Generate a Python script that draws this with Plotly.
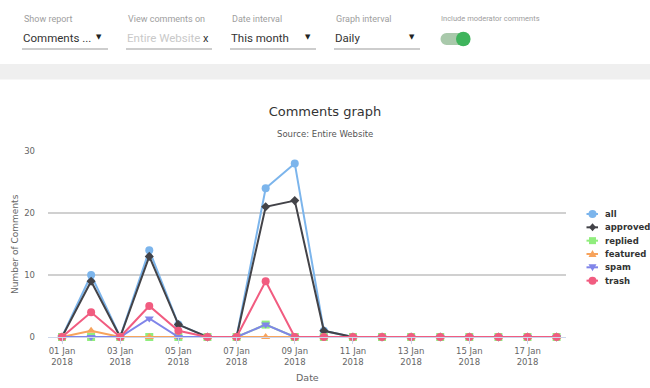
import plotly.graph_objects as go

# ---------------- data ----------------
dates = [f"2018-01-{d:02d}" for d in range(1, 19)]
series_names = ["all", "approved", "replied", "featured", "spam", "trash"]
all_vals      = [0, 10, 0, 14, 2, 0, 0, 24, 28, 1, 0, 0, 0, 0, 0, 0, 0, 0]
approved_vals = [0, 9, 0, 13, 2, 0, 0, 21, 22, 1, 0, 0, 0, 0, 0, 0, 0, 0]
replied_vals  = [0, 0, 0, 0, 0, 0, 0, 2, 0, 0, 0, 0, 0, 0, 0, 0, 0, 0]
featured_vals = [0, 1, 0, 0, 0, 0, 0, 0, 0, 0, 0, 0, 0, 0, 0, 0, 0, 0]
spam_vals     = [0, 0, 0, 3, 0, 0, 0, 2, 0, 0, 0, 0, 0, 0, 0, 0, 0, 0]
trash_vals    = [0, 4, 0, 5, 1, 0, 0, 9, 0, 0, 0, 0, 0, 0, 0, 0, 0, 0]
tick_dates = [f"2018-01-{d:02d}" for d in range(1, 19, 2)]
tick_labels = [f"{d:02d} Jan<br>2018" for d in range(1, 19, 2)]
y_ticks = [0, 10, 20, 30]

series_vals = [all_vals, approved_vals, replied_vals, featured_vals, spam_vals, trash_vals]
colors = ["#7cb5ec", "#434348", "#90ed7d", "#f7a35c", "#8085e9", "#f15c80"]
symbols = ["circle", "diamond", "square", "triangle-up", "triangle-down", "circle"]

W, H = 650, 388
ML, MR, MT, MB = 48, 84, 151, 51
PW, PH = W - ML - MR, H - MT - MB


def px(x):
    return (x - ML) / PW


def py(y):
    return (H - MB - y) / PH


fig = go.Figure()
for name, vals, c, s in zip(series_names, series_vals, colors, symbols):
    fig.add_trace(go.Scatter(
        x=dates, y=vals, name=name, mode="lines+markers",
        line=dict(color=c, width=2),
        marker=dict(color=c, symbol=s, size=7 if s == "diamond" else 8),
        cliponaxis=False, showlegend=False,
    ))

shapes = []
annotations = []

# gray band
shapes.append(dict(type="rect", xref="paper", yref="paper",
                   x0=px(0), x1=px(W), y0=py(79.5), y1=py(64),
                   fillcolor="#efefef", line=dict(width=0), layer="below"))

# controls
ctrl_labels = ["Show report", "View comments on", "Date interval", "Graph interval"]
ctrl_values = ["Comments ...", "Entire Website", "This month", "Daily"]
ctrl_x = [22, 126, 230, 334]
for lab, val, x0 in zip(ctrl_labels, ctrl_values, ctrl_x):
    annotations.append(dict(xref="paper", yref="paper", x=px(x0), y=py(19),
                            xanchor="left", yanchor="middle", showarrow=False,
                            text=lab, font=dict(family="Roboto", size=9, color="#9e9e9e")))
    annotations.append(dict(xref="paper", yref="paper", x=px(x0 - 1), y=py(37.5),
                            xanchor="left", yanchor="middle", showarrow=False,
                            text=val, font=dict(family="Roboto", size=11.5,
                                                color="#c9c9c9" if val == "Entire Website" else "#333333")))
    shapes.append(dict(type="line", xref="paper", yref="paper",
                       x0=px(x0), x1=px(x0 + 86), y0=py(49), y1=py(49),
                       line=dict(color="#bdbdbd", width=1.5)))
for ax in [99, 308, 412]:
    annotations.append(dict(xref="paper", yref="paper", x=px(ax), y=py(36.5),
                            xanchor="center", yanchor="middle", showarrow=False,
                            text="▼", font=dict(family="DejaVu Sans", size=7, color="#222222")))
annotations.append(dict(xref="paper", yref="paper", x=px(206), y=py(38.5),
                        xanchor="center", yanchor="middle", showarrow=False,
                        text="x", font=dict(family="Roboto", size=11, color="#333333")))
annotations.append(dict(xref="paper", yref="paper", x=px(439), y=py(18.5),
                        xanchor="left", yanchor="middle", showarrow=False,
                        text="Include moderator comments",
                        font=dict(family="Roboto", size=7.5, color="#9e9e9e")))

# toggle
tc = "#a9c9ab"
shapes.append(dict(type="circle", xref="paper", yref="paper",
                   x0=px(440.5), x1=px(452.5), y0=py(45), y1=py(33),
                   fillcolor=tc, line=dict(width=0)))
shapes.append(dict(type="rect", xref="paper", yref="paper",
                   x0=px(446.5), x1=px(464), y0=py(45), y1=py(33),
                   fillcolor=tc, line=dict(width=0)))
shapes.append(dict(type="circle", xref="paper", yref="paper",
                   x0=px(456), x1=px(470.6), y0=py(46.3), y1=py(31.7),
                   fillcolor="#3fb45c", line=dict(width=0)))

# subtitle
annotations.append(dict(xref="paper", yref="paper", x=px(325), y=py(134),
                        xanchor="center", yanchor="middle", showarrow=False,
                        text="Source: Entire Website",
                        font=dict(family="DejaVu Sans", size=8.5, color="#555555")))
# y title
annotations.append(dict(xref="paper", yref="paper", x=px(15), y=py(244),
                        xanchor="center", yanchor="middle", showarrow=False,
                        textangle=-90, text="Number of Comments",
                        font=dict(family="DejaVu Sans", size=9, color="#666666")))
# x title
annotations.append(dict(xref="paper", yref="paper", x=px(307), y=py(377),
                        xanchor="center", yanchor="middle", showarrow=False,
                        text="Date",
                        font=dict(family="DejaVu Sans", size=9.5, color="#666666")))


# manual compact legend
def poly(points):
    return "M " + " L ".join(f"{px(a)},{py(b)}" for a, b in points) + " Z"


for i, (name, c, s) in enumerate(zip(series_names, colors, symbols)):
    yc = 214 + i * 13.33
    mx = 592.5
    shapes.append(dict(type="line", xref="paper", yref="paper",
                       x0=px(586.5), x1=px(598), y0=py(yc), y1=py(yc),
                       line=dict(color=c, width=2)))
    if s == "circle":
        shapes.append(dict(type="circle", xref="paper", yref="paper",
                           x0=px(mx - 4), x1=px(mx + 4), y0=py(yc + 4), y1=py(yc - 4),
                           fillcolor=c, line=dict(width=0)))
    elif s == "square":
        shapes.append(dict(type="rect", xref="paper", yref="paper",
                           x0=px(mx - 3.5), x1=px(mx + 3.5), y0=py(yc + 3.5), y1=py(yc - 3.5),
                           fillcolor=c, line=dict(width=0)))
    elif s == "diamond":
        shapes.append(dict(type="path", xref="paper", yref="paper",
                           path=poly([(mx, yc - 4), (mx + 3.5, yc), (mx, yc + 4), (mx - 3.5, yc)]),
                           fillcolor=c, line=dict(width=0)))
    elif s == "triangle-up":
        shapes.append(dict(type="path", xref="paper", yref="paper",
                           path=poly([(mx, yc - 4), (mx + 4, yc + 3), (mx - 4, yc + 3)]),
                           fillcolor=c, line=dict(width=0)))
    elif s == "triangle-down":
        shapes.append(dict(type="path", xref="paper", yref="paper",
                           path=poly([(mx, yc + 4), (mx + 4, yc - 3), (mx - 4, yc - 3)]),
                           fillcolor=c, line=dict(width=0)))
    annotations.append(dict(xref="paper", yref="paper", x=px(602.5), y=py(yc),
                            xanchor="left", yanchor="middle", showarrow=False,
                            text=f"<b>{name}</b>",
                            font=dict(family="DejaVu Sans", size=8.5, color="#333333")))

fig.update_layout(
    width=W, height=H,
    margin=dict(l=ML, r=MR, t=MT, b=MB, pad=0, autoexpand=False),
    paper_bgcolor="white", plot_bgcolor="white",
    title=dict(text="Comments graph", x=325 / W, xanchor="center",
               y=1 - 111 / H, yanchor="middle",
               font=dict(family="DejaVu Sans", size=13, color="#333333")),
    shapes=shapes, annotations=annotations,
    showlegend=False,
    xaxis=dict(type="date", range=["2017-12-31 12:27", "2018-01-18 07:45"],
               tickvals=tick_dates, ticktext=tick_labels,
               tickfont=dict(family="DejaVu Sans", size=8.5, color="#666666"),
               showgrid=False, zeroline=False,
               showline=True, linecolor="#ccd6eb", linewidth=1,
               ticks="outside", tickcolor="#ccd6eb", ticklen=6),
    yaxis=dict(range=[0, 30], tickvals=y_ticks,
               tickfont=dict(family="DejaVu Sans", size=8.5, color="#666666"),
               showgrid=True, gridcolor="#d0d0d0", gridwidth=1.5,
               zeroline=False, showline=False, ticks="", ticklabelstandoff=12),
)

fig.write_html("out.html", config={"displayModeBar": False},
               post_script="document.body.style.margin='0px';")
